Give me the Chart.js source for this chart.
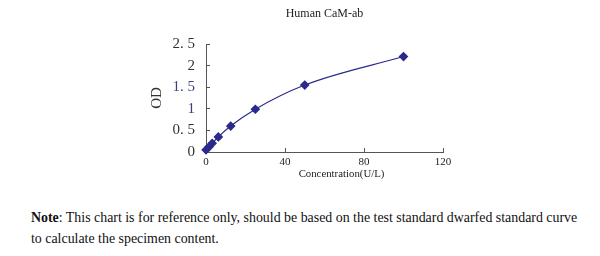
<!DOCTYPE html>
<html>
<head>
<meta charset="utf-8">
<script src="https://cdn.jsdelivr.net/npm/chart.js@4/dist/chart.umd.min.js"></script>
<style>
  html, body { margin: 0; padding: 0; background: #fff; width: 600px; height: 256px; overflow: hidden; }
  #wrap { position: absolute; left: 0; top: 0; width: 600px; height: 190px; }
  .note { position: absolute; left: 31px; font-family: 'Liberation Serif', 'Times New Roman', serif; font-size: 13.9px; color: #111; white-space: nowrap; line-height: 20px; }
</style>
</head>
<body>
<div id="wrap"><canvas id="c" width="600" height="190"></canvas></div>
<div class="note" style="top:208px;"><b>Note</b>: This chart is for reference only, should be based on the test standard dwarfed standard curve</div>
<div class="note" style="top:229px;">to calculate the specimen content.</div>
<script>
const chartTitle = 'Human CaM-ab';
const xTitle = 'Concentration(U/L)';
const yTitle = 'OD';
const concentrations = [0, 1.56, 3.12, 6.25, 12.5, 25, 50, 100];
const odValues = [0.05, 0.12, 0.2, 0.35, 0.6, 0.99, 1.55, 2.21];
const xTickValues = [0, 40, 80, 120];
const yTickLabels = ['0', '0. 5', '1', '1. 5', '2', '2. 5'];

const serif = "'Liberation Serif', 'Times New Roman', serif";
const navy = '#2a2a8c';

const xTitlePlugin = {
  id: 'xTitlePlugin',
  afterDraw(chart) {
    const {ctx, chartArea} = chart;
    ctx.save();
    ctx.font = '10.8px ' + serif;
    ctx.fillStyle = '#222';
    ctx.textAlign = 'center';
    ctx.textBaseline = 'middle';
    ctx.fillText(xTitle, (chartArea.left + chartArea.right) / 2 + 17, chartArea.bottom + 22);
    ctx.restore();
  }
};

new Chart(document.getElementById('c'), {
  type: 'line',
  data: {
    datasets: [{
      data: concentrations.map((x, i) => ({x: x, y: odValues[i]})),
      borderColor: navy,
      backgroundColor: navy,
      borderWidth: 1.2,
      pointStyle: 'rectRot',
      pointRadius: 4,
      pointHoverRadius: 4,
      cubicInterpolationMode: 'monotone',
      fill: false,
      clip: false
    }]
  },
  options: {
    responsive: false,
    animation: false,
    events: [],
    layout: { padding: { left: 140, right: 157, top: 0, bottom: 0 } },
    plugins: {
      legend: { display: false },
      tooltip: { enabled: false },
      title: {
        display: true,
        text: chartTitle,
        fullSize: false,
        color: '#222',
        font: { family: serif, size: 12, weight: 'normal' },
        padding: { top: 7, bottom: 22.6 }
      }
    },
    scales: {
      x: {
        type: 'linear',
        min: 0,
        max: 120,
        afterBuildTicks: (s) => { s.ticks = xTickValues.map(v => ({value: v})); },
        afterFit: (s) => { s.height = 38; },
        border: { display: true, color: '#555', width: 1 },
        grid: { display: true, drawOnChartArea: false, drawTicks: true, tickLength: -4, color: '#555' },
        ticks: { color: '#222', font: { family: serif, size: 11 }, padding: 8, maxRotation: 0 },
        title: { display: false }
      },
      y: {
        type: 'linear',
        min: 0,
        max: 2.5,
        ticks: {
          stepSize: 0.5,
          color: (c) => (c.index === 2 || c.index === 3) ? '#3e3e7e' : '#333',
          font: { family: serif, size: 15 },
          padding: 15,
          callback: (v, i) => yTickLabels[i]
        },
        afterFit: (s) => { s.width = 66; },
        border: { display: true, color: '#555', width: 1 },
        grid: { display: true, drawOnChartArea: false, drawTicks: true, tickLength: -4, color: '#555' },
        title: {
          display: true,
          text: yTitle,
          color: '#333',
          font: { family: serif, size: 15 },
          padding: { top: 8, bottom: 0 }
        }
      }
    }
  },
  plugins: [xTitlePlugin]
});
</script>
</body>
</html>
